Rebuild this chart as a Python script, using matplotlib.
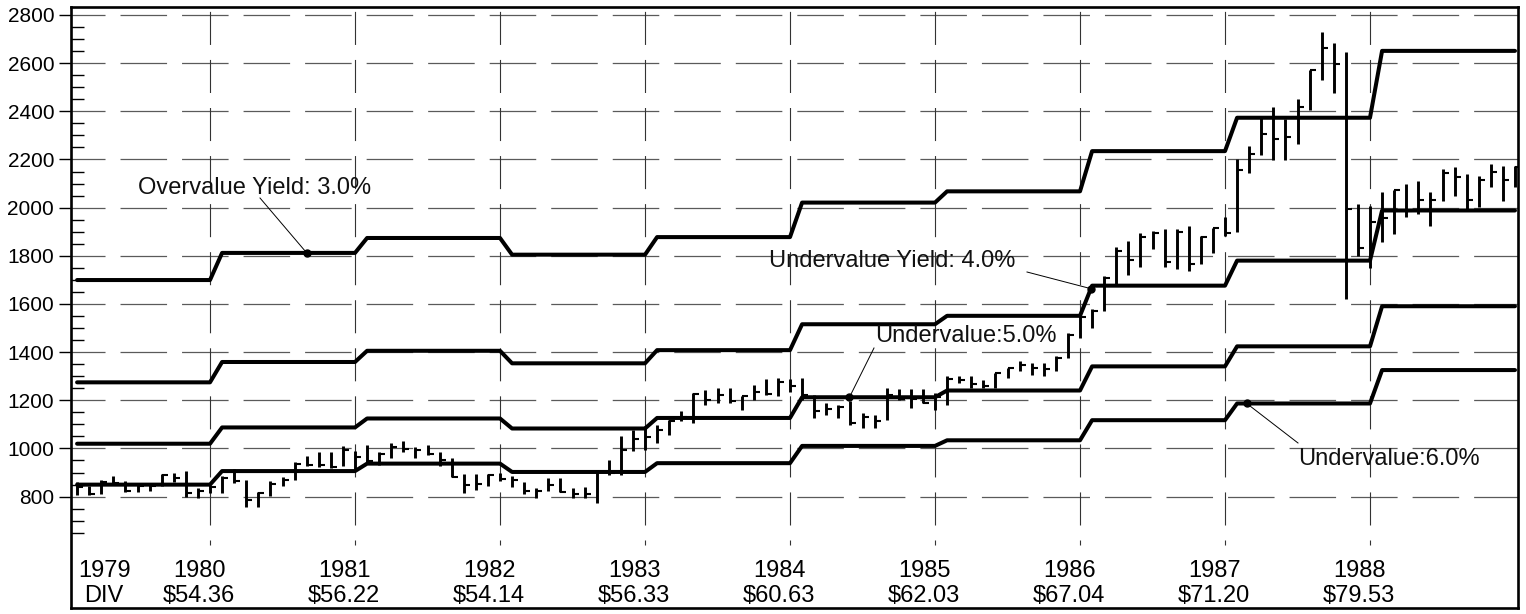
import numpy as np
import matplotlib.pyplot as plt

plt.rcParams['font.family'] = ['Liberation Sans', 'DejaVu Sans']
plt.rcParams['lines.scale_dashes'] = False

# Dow Jones monthly bars, Jan 1979 .. Dec 1988 (one row per year)
highs = [
    862, 842, 870, 885, 865, 850, 855, 895, 900, 905, 835, 850,
    884, 915, 870, 820, 865, 880, 942, 970, 985, 985, 1010, 990,
    1015, 985, 1022, 1030, 1005, 1015, 985, 960, 895, 892, 895, 900,
    885, 862, 835, 876, 876, 835, 840, 911, 953, 1050, 1078, 1092,
    1099, 1119, 1157, 1230, 1244, 1251, 1250, 1217, 1265, 1287, 1293, 1287,
    1293, 1224, 1190, 1182, 1196, 1147, 1140, 1251, 1245, 1245, 1245, 1231,
    1300, 1300, 1300, 1286, 1314, 1335, 1362, 1355, 1356, 1383, 1481, 1550,
    1578, 1717, 1838, 1862, 1893, 1901, 1911, 1911, 1925, 1883, 1915, 1960,
    2203, 2254, 2380, 2418, 2369, 2453, 2571, 2730, 2685, 2647, 2015, 2008,
    2064, 2074, 2099, 2112, 2064, 2161, 2168, 2140, 2133, 2182, 2175, 2175,
]
lows = [
    807, 805, 812, 850, 820, 818, 825, 845, 860, 800, 796, 815,
    815, 855, 758, 758, 802, 845, 870, 925, 922, 918, 925, 915,
    939, 930, 960, 985, 960, 973, 925, 882, 815, 828, 845, 865,
    840, 810, 793, 825, 820, 793, 795, 772, 890, 890, 988, 995,
    1022, 1057, 1113, 1106, 1182, 1189, 1189, 1161, 1200, 1223, 1217, 1236,
    1200, 1126, 1140, 1126, 1099, 1085, 1085, 1120, 1200, 1168, 1188, 1161,
    1182, 1272, 1251, 1251, 1251, 1293, 1321, 1307, 1300, 1321, 1376, 1460,
    1501, 1571, 1682, 1721, 1754, 1828, 1754, 1744, 1738, 1768, 1810, 1883,
    1897, 2143, 2220, 2196, 2199, 2265, 2404, 2532, 2476, 1619, 1800, 1751,
    1856, 1890, 1960, 1974, 1925, 2029, 2050, 1994, 2001, 2085, 2029, 2085,
]
closes = [
    839, 809, 862, 855, 822, 842, 846, 888, 879, 816, 822, 839,
    876, 863, 786, 817, 851, 868, 935, 933, 932, 924, 993, 964,
    947, 975, 1004, 998, 992, 977, 952, 882, 850, 853, 889, 875,
    871, 824, 823, 848, 820, 812, 809, 901, 896, 992, 1039, 1047,
    1076, 1113, 1130, 1226, 1200, 1222, 1199, 1216, 1233, 1225, 1276, 1259,
    1221, 1155, 1165, 1171, 1105, 1132, 1115, 1224, 1207, 1207, 1189, 1212,
    1287, 1284, 1267, 1258, 1315, 1335, 1347, 1334, 1329, 1374, 1472, 1547,
    1571, 1709, 1819, 1784, 1877, 1893, 1775, 1898, 1768, 1878, 1914, 1896,
    2158, 2224, 2305, 2286, 2292, 2419, 2572, 2663, 2596, 1994, 1834, 1939,
    1958, 2072, 1988, 2032, 2031, 2142, 2129, 2032, 2113, 2149, 2115, 2169,
]

div_years = [1979, 1980, 1981, 1982, 1983, 1984, 1985, 1986, 1987, 1988]
dividends = [50.98, 54.36, 56.22, 54.14, 56.33, 60.63, 62.03, 67.04, 71.20, 79.53]
div_labels = ['DIV', '$54.36', '$56.22', '$54.14', '$56.33', '$60.63',
              '$62.03', '$67.04', '$71.20', '$79.53']
yields = [0.03, 0.04, 0.05, 0.06]

# ---------------------------------------------------------------
PX = 0.2408          # pixels per index point
YR = 145.0           # pixels per year


def px2t(x):
    return 1979 + (x - 65) / YR


def px2v(y):
    return 2800 - (y - 15) / PX


fig = plt.figure(figsize=(15.26, 6.14), dpi=100)
ax = fig.add_axes([71 / 1526, 1 - 608 / 614, (1518 - 71) / 1526, (608 - 7) / 614])
x0, x1 = px2t(71), px2t(1518)
y0, y1 = px2v(608), px2v(7)
ax.set_xlim(x0, x1)
ax.set_ylim(y0, y1)

# grid
for v in range(800, 2801, 200):
    ax.plot([x0, x1], [v, v], color='#5a5a5a', lw=0.9,
            linestyle=(9.0, (33.5, 10.8)), zorder=1)
for yr in div_years[1:]:
    ax.plot([yr, yr], [px2v(545), y1], color='#333333', lw=0.8,
            linestyle=(20.2, (23.8, 10.8)), zorder=1)

# monthly bars
t = 1979 + (np.arange(len(closes)) + 1) / 12.0
ax.vlines(t, lows, highs, color='black', lw=2.1, zorder=2)
ax.hlines(closes, t, t + 6 / YR, color='black', lw=1.5, zorder=2)

# value lines
line_t = [div_years[0] + 1 / 12]
dvals = [dividends[0]]
for i in range(1, len(div_years)):
    line_t += [div_years[i], div_years[i] + 1 / 12]
    dvals += [dividends[i - 1], dividends[i]]
line_t.append(div_years[-1] + 1)
dvals.append(dividends[-1])
line_t = np.array(line_t)
dvals = np.array(dvals)
for y in yields:
    ax.plot(line_t, dvals / y, color='black', lw=2.9,
            solid_capstyle='round', solid_joinstyle='round', zorder=3)

# annotations: (text, yield, dot t, text left px, baseline px, leader start px)
notes = [
    ('Overvalue Yield: 3.0%', 0.03, 1980.667, 138, 194, (260, 198)),
    ('Undervalue Yield: 4.0%', 0.04, 1986.075, 769, 267, (1027, 272)),
    ('Undervalue:5.0%', 0.05, 1984.41, 875, 342, (874, 348)),
    ('Undervalue:6.0%', 0.06, 1987.15, 1298, 465, (1298, 443)),
]
for txt, y, td, tx, ty, (lx, ly) in notes:
    vd = np.interp(td, line_t, dvals / y)
    ax.plot([px2t(lx), td], [px2v(ly), vd], color='black', lw=0.7, zorder=4)
    ax.plot(td, vd, 'o', color='black', ms=5, zorder=4)
    ax.text(px2t(tx), px2v(ty), txt, fontsize=17, ha='left', va='baseline',
            color='#111111', zorder=5)

# year / dividend labels
for yr, lab in zip(div_years, div_labels):
    xc = 1979.27 if yr == 1979 else yr - 0.075
    ax.text(xc, px2v(577), str(yr), fontsize=17, ha='center', va='baseline')
    ax.text(xc, px2v(602), lab, fontsize=17, ha='center', va='baseline')

# axes cosmetics
ax.set_xticks([])
ax.set_yticks(range(800, 2801, 200))
ax.set_yticks([v for v in range(650, 2800, 50) if v % 200], minor=True)
ax.tick_params(axis='y', which='major', direction='out', length=8.6,
               width=1.0, labelsize=15, pad=3.5)
ax.tick_params(axis='y', which='minor', direction='in', length=9, width=1.0)
for s in ax.spines.values():
    s.set_linewidth(1.9)

fig.savefig('out.png', dpi=100)
